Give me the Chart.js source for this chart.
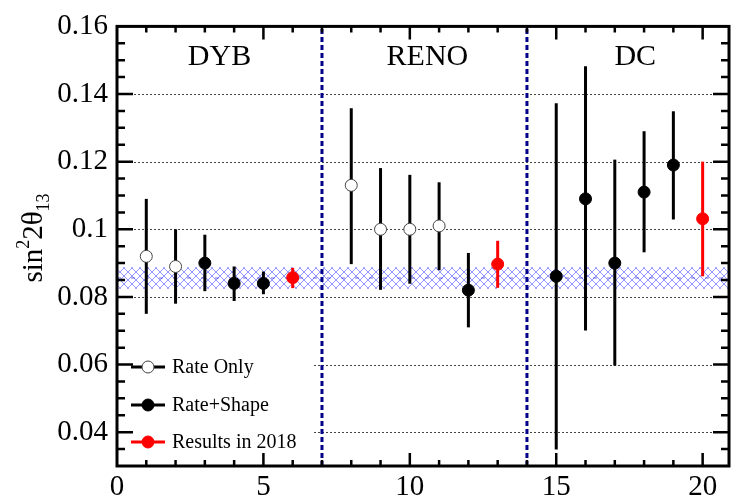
<!DOCTYPE html>
<html>
<head>
<meta charset="utf-8">
<script src="https://cdn.jsdelivr.net/npm/chart.js@4"></script>
<style>
html, body { margin: 0; padding: 0; background: #fff; overflow: hidden; }
#wrap { width: 736px; height: 501px; }
</style>
</head>
<body>
<div id="wrap"><canvas id="c" width="736" height="501"></canvas></div>
<script>
const rateOnlyX  = [1, 2, 8, 9, 10, 11]
const rateOnlyY  = [0.092, 0.089, 0.113, 0.100, 0.100, 0.101]
const rateOnlyLo = [0.075, 0.078, 0.0897, 0.0821, 0.0839, 0.0879]
const rateOnlyHi = [0.109, 0.100, 0.1358, 0.1181, 0.1161, 0.1139]

const rateShapeX  = [3, 4, 5, 12, 15, 16, 17, 18, 19]
const rateShapeY  = [0.090, 0.084, 0.084, 0.082, 0.0861, 0.109, 0.090, 0.111, 0.119]
const rateShapeLo = [0.0817, 0.0788, 0.0808, 0.0710, 0.0349, 0.0701, 0.0597, 0.0932, 0.1029]
const rateShapeHi = [0.0984, 0.089, 0.0875, 0.0930, 0.1373, 0.1482, 0.1206, 0.129, 0.1349]

const res2018X  = [6, 13, 20]
const res2018Y  = [0.0857, 0.0897, 0.1031]
const res2018Lo = [0.0826, 0.0827, 0.0861]
const res2018Hi = [0.0886, 0.0966, 0.1200]

const bandLo = 0.0824
const bandMid = 0.0856
const bandHi = 0.0888

const dividerX = [7, 14]
const regionNames = ["DYB", "RENO", "DC"]
const regionX = [3.5, 10.6, 17.7]

const xTicks = [0, 5, 10, 15, 20]
const xTickLabels = ["0", "5", "10", "15", "20"]
const yTicks = [0.04, 0.06, 0.08, 0.1, 0.12, 0.14, 0.16]
const yTickLabels = ["0.04", "0.06", "0.08", "0.1", "0.12", "0.14", "0.16"]

const SERIF = "'Liberation Serif', 'Times New Roman', serif"

function pts(xs, ys) {
       return xs.map((x, i) => ({ x: x, y: ys[i] }))
}

function hatch() {
       const p = document.createElement("canvas")
       p.width = 8
       p.height = 8
       const c = p.getContext("2d")
       c.strokeStyle = "rgba(80,80,255,0.6)"
       c.lineWidth = 1
       c.beginPath()
       c.moveTo(0, 0); c.lineTo(8, 8)
       c.moveTo(8, 0); c.lineTo(0, 8)
       c.stroke()
       return p
}

const decor = {
       id: "decor",

       beforeDatasetsDraw(chart) {
              const { ctx, chartArea: a, scales: { x, y } } = chart
              ctx.save()

              // dotted grid
              ctx.strokeStyle = "#444"
              ctx.lineWidth = 1
              ctx.setLineDash([2, 2])
              yTicks.forEach(v => {
                     if (v >= 0.16) return
                     const py = Math.round(y.getPixelForValue(v)) + 0.5
                     ctx.beginPath()
                     ctx.moveTo(a.left + 17, py)
                     ctx.lineTo(a.right - 17, py)
                     ctx.stroke()
              })
              ctx.setLineDash([])

              // legend box hides the grid behind it
              ctx.fillStyle = "#fff"
              ctx.fillRect(a.left + 2, 340, 195, a.bottom - 342)

              // hatched band
              const top = y.getPixelForValue(bandHi)
              const bot = y.getPixelForValue(bandLo)
              ctx.fillStyle = ctx.createPattern(hatch(), "repeat")
              ctx.fillRect(a.left, top, a.width, bot - top)
              ctx.strokeStyle = "rgba(40,40,220,0.7)"
              ctx.setLineDash([4, 10])
              ctx.beginPath()
              ctx.moveTo(a.left, y.getPixelForValue(bandMid))
              ctx.lineTo(a.right, y.getPixelForValue(bandMid))
              ctx.stroke()
              ctx.setLineDash([])

              // error bars
              chart.data.datasets.forEach(ds => {
                     if (!ds.errLo) return
                     ctx.strokeStyle = ds.barColor
                     ctx.lineWidth = 3
                     ds.data.forEach((p, i) => {
                            const px = x.getPixelForValue(p.x)
                            ctx.beginPath()
                            ctx.moveTo(px, y.getPixelForValue(ds.errLo[i]))
                            ctx.lineTo(px, y.getPixelForValue(ds.errHi[i]))
                            ctx.stroke()
                     })
              })

              ctx.restore()
       },

       afterDraw(chart) {
              const { ctx, chartArea: a, scales: { x, y } } = chart
              ctx.save()

              // frame
              ctx.strokeStyle = "#000"
              ctx.lineWidth = 3
              ctx.strokeRect(a.left, a.top, a.width, a.height)

              // inward ticks
              ctx.lineWidth = 2.5
              for (let v = 1; v <= 20; v++) {
                     const px = x.getPixelForValue(v)
                     const len = v % 5 === 0 ? 13 : 6
                     ctx.beginPath()
                     ctx.moveTo(px, a.bottom); ctx.lineTo(px, a.bottom - len)
                     ctx.moveTo(px, a.top); ctx.lineTo(px, a.top + len)
                     ctx.stroke()
              }
              for (let k = 7; k < 32; k++) {
                     const v = k * 0.005
                     const py = y.getPixelForValue(v)
                     const len = k % 4 === 0 ? 16 : 8
                     ctx.beginPath()
                     ctx.moveTo(a.left, py); ctx.lineTo(a.left + len, py)
                     ctx.moveTo(a.right, py); ctx.lineTo(a.right - len, py)
                     ctx.stroke()
              }

              // experiment names
              ctx.fillStyle = "#000"
              ctx.font = "30px " + SERIF
              ctx.textAlign = "center"
              ctx.textBaseline = "middle"
              regionNames.forEach((n, i) => {
                     ctx.fillText(n, x.getPixelForValue(regionX[i]), a.top + 31)
              })

              // legend
              ctx.font = "20px " + SERIF
              ctx.textAlign = "left"
              const rows = [367, 405, 442]
              chart.data.datasets.forEach((ds, i) => {
                     if (!ds.errLo) return
                     const ry = rows[i]
                     ctx.strokeStyle = ds.barColor
                     ctx.lineWidth = 3
                     ctx.beginPath()
                     ctx.moveTo(131, ry); ctx.lineTo(165, ry)
                     ctx.stroke()
                     ctx.beginPath()
                     ctx.arc(148, ry, 6, 0, Math.PI * 2)
                     ctx.fillStyle = ds.pointBackgroundColor
                     ctx.fill()
                     ctx.lineWidth = 1
                     ctx.strokeStyle = ds.pointBorderColor
                     ctx.stroke()
                     ctx.fillStyle = "#000"
                     ctx.fillText(ds.label, 172, ry + 1)
              })

              // y title: sin^2 2theta_13
              ctx.translate(42, 238)
              ctx.rotate(-Math.PI / 2)
              ctx.textBaseline = "alphabetic"
              const big = "29px " + SERIF, small = "18px " + SERIF
              const parts = [["sin", big, 0], ["2", small, -13], ["2\u03b8", big, 0], ["13", small, 7]]
              let w = 0
              parts.forEach(p => { ctx.font = p[1]; w += ctx.measureText(p[0]).width })
              let cx = -w / 2
              parts.forEach(p => {
                     ctx.font = p[1]
                     ctx.fillText(p[0], cx, p[2])
                     cx += ctx.measureText(p[0]).width
              })

              ctx.restore()
       }
}

const dividerSets = dividerX.map(v => ({
       type: "line",
       data: [{ x: v, y: 0.03 }, { x: v, y: 0.16 }],
       showLine: true,
       borderColor: "#00008b",
       borderWidth: 3,
       borderDash: [5, 3],
       pointRadius: 0
}))

new Chart(document.getElementById("c"), {
       type: "scatter",
       data: {
              datasets: [
                     {
                            label: "Rate Only",
                            data: pts(rateOnlyX, rateOnlyY),
                            errLo: rateOnlyLo, errHi: rateOnlyHi,
                            barColor: "#000",
                            pointRadius: 6,
                            pointBackgroundColor: "#fff",
                            pointBorderColor: "#444",
                            pointBorderWidth: 1
                     },
                     {
                            label: "Rate+Shape",
                            data: pts(rateShapeX, rateShapeY),
                            errLo: rateShapeLo, errHi: rateShapeHi,
                            barColor: "#000",
                            pointRadius: 6,
                            pointBackgroundColor: "#000",
                            pointBorderColor: "#000",
                            pointBorderWidth: 1
                     },
                     {
                            label: "Results in 2018",
                            data: pts(res2018X, res2018Y),
                            errLo: res2018Lo, errHi: res2018Hi,
                            barColor: "#ff0000",
                            pointRadius: 6,
                            pointBackgroundColor: "#ff0000",
                            pointBorderColor: "#ff0000",
                            pointBorderWidth: 1
                     },
                     ...dividerSets
              ]
       },
       options: {
              responsive: false,
              animation: false,
              layout: { padding: { top: 21, right: 3, left: 0, bottom: 0 } },
              plugins: { legend: { display: false }, tooltip: { enabled: false } },
              scales: {
                     x: {
                            type: "linear",
                            min: 0,
                            max: 20.9,
                            afterBuildTicks: s => { s.ticks = xTicks.map(v => ({ value: v })) },
                            afterFit: s => { s.height = 35 },
                            grid: { display: false, drawTicks: false },
                            border: { display: false },
                            ticks: {
                                   autoSkip: false,
                                   maxRotation: 0,
                                   padding: 4,
                                   color: "#000",
                                   font: { family: SERIF, size: 29 },
                                   callback: (v) => xTickLabels[xTicks.indexOf(v)]
                            }
                     },
                     y: {
                            min: 0.03,
                            max: 0.16,
                            afterBuildTicks: s => { s.ticks = yTicks.map(v => ({ value: v })) },
                            afterFit: s => { s.width = 117 },
                            grid: { display: false, drawTicks: false },
                            border: { display: false },
                            ticks: {
                                   padding: 9,
                                   color: "#000",
                                   font: { family: SERIF, size: 29 },
                                   callback: (v) => yTickLabels[yTicks.indexOf(v)]
                            }
                     }
              }
       },
       plugins: [decor]
})
</script>
</body>
</html>
